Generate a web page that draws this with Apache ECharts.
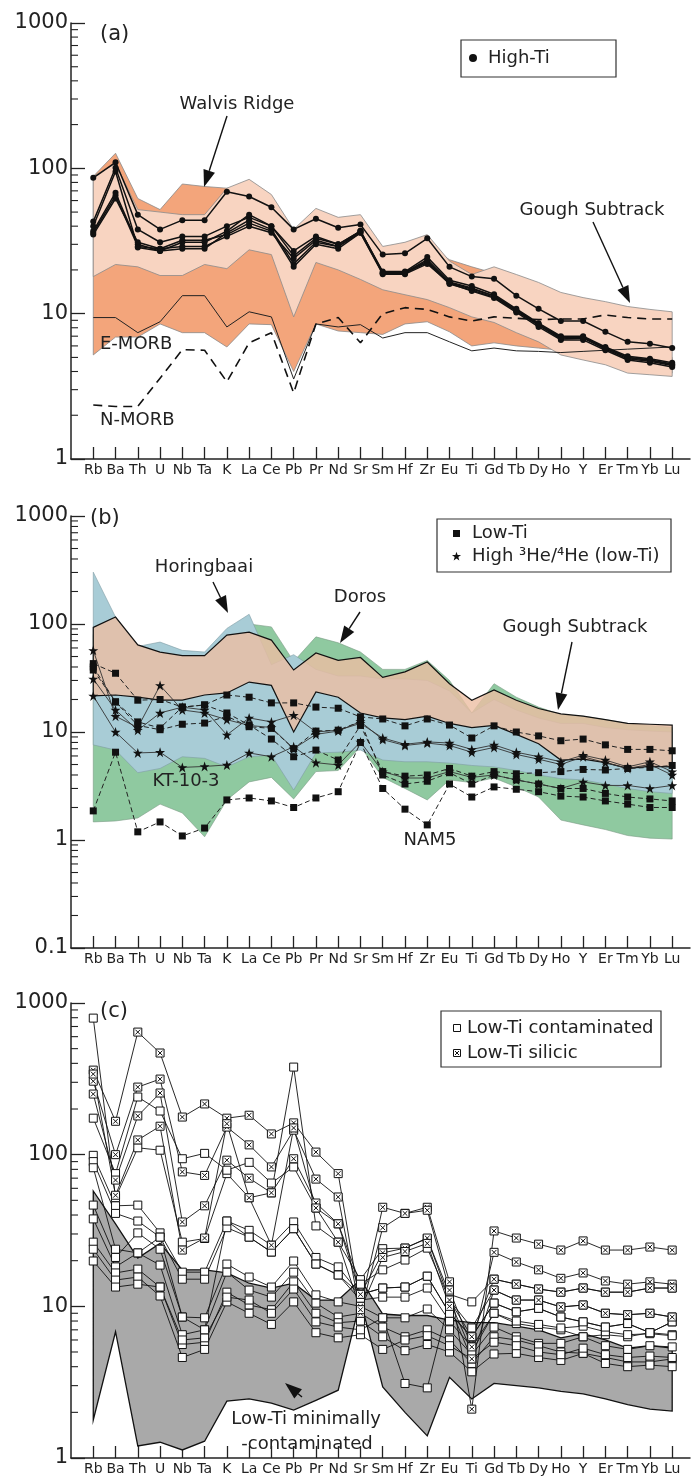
<!DOCTYPE html>
<html><head><meta charset="utf-8">
<script src="https://cdn.jsdelivr.net/npm/echarts@6/dist/echarts.min.js"></script>
<style>html,body{margin:0;padding:0;background:#fff}#c{width:692px;height:1477px}</style>
</head><body><div id="c"></div><script>
// Element order of the primitive-mantle-normalised spider diagram
const elements = ['Rb','Ba','Th','U','Nb','Ta','K','La','Ce','Pb','Pr','Nd','Sr','Sm','Hf','Zr','Eu','Ti','Gd','Tb','Dy','Ho','Y','Er','Tm','Yb','Lu'];
const tickIdx = elements.map((e, i) => i);

// ---------- (a) High-Ti ----------
const walvisUpper = [88,127,62,52,78,75,73,70,60,36,50,44,40,26,27,30,23.5,21,19,15,12,9,7,6,5.5,5.2,5];
const walvisLower = [5.2,6.9,6.9,8.5,7.4,7.4,5.9,8.5,8.4,4.0,8.5,7.6,7.4,7.2,8.5,8.8,7.5,6.0,6.3,6.0,5.8,5.6,5.2,4.8,4.2,4.0,3.9];
const goughAUpper = [88,108,52,50,48,48,73,84,66,38,53,46,48,29,31,35,23,18.6,21,18.6,16.4,14,12.9,12.1,11.2,10.7,10.3];
const goughALower = [18,21.8,21,18.3,18.3,21.8,20.4,27.5,25.5,9.5,22.5,20,17.2,14.6,13.5,12.5,11,9.5,8.7,7.4,6.4,5.2,4.8,4.45,3.9,3.8,3.7];
const eMorb = [9.4,9.4,7.4,8.8,13.3,13.3,8.1,10.3,9.5,3.55,8.5,8.1,8.4,6.8,7.4,7.4,6.4,5.55,5.8,5.55,5.5,5.4,5.5,5.6,5.7,5.8,5.9];
const nMorb = [2.35,2.3,2.3,3.6,5.65,5.6,3.4,6.3,7.4,2.85,8.5,9.4,6.3,10,11,10.7,9.5,8.9,9.5,9.3,9.1,9.2,9.2,9.8,9.4,9.2,9.2];
const highTi = [
  [86,110,48,38,44,44,69,64,54,38,45,39,41,25.5,26,33,21,18,17.4,13.3,10.8,8.9,8.9,7.5,6.4,6.2,5.8],
  [43,101,38,31,34,34,40,46,40,25,33,30,37,19.5,19.5,24.5,17,15.5,13.6,10.8,8.6,7,7,5.9,5.1,4.9,4.6],
  [37,68,30,27,28,28,36,44,38,22,31,29,37,19,19,23,16.3,14.8,13.3,10.6,8.5,6.9,6.9,5.8,5,4.8,4.5],
  [36,65,29,28,32,32,35,42,37,21,30,28,36,19,19,22.5,16,14.5,13,10.4,8.3,6.7,6.8,5.7,4.9,4.7,4.4],
  [35,62,31,28,29,29,34,40,36,24,32,29,36,18.7,18.7,22,16.2,14.3,12.8,10.2,8.1,6.6,6.6,5.6,4.8,4.6,4.3],
  [40,95,28.5,27,31,31,37,48,40,27,34,30,37,19.2,19.2,23.5,16.5,15,13.2,10.5,8.4,6.8,6.9,5.8,5,4.8,4.45]
];

// ---------- (b) Low-Ti ----------
const doros = {
  upper: [80,100,55,50,45,45,70,100,94,45,76,67,55,38,38,46,30,15,28,21,17,14.5,14,13,12,11.5,11],
  lower: [1.47,1.5,1.6,2.15,1.78,1.07,2.35,3.45,3.8,2.4,4.3,4.4,7.3,3.8,3.0,2.35,3.6,3.4,3.75,3.1,2.5,1.53,1.38,1.25,1.1,1.04,1.02]
};
const horingbaai = {
  upper: [302,116,62,68,57,55,91,123,42,52,38,33,33,31,31,30,24,15,20,16,13.5,12,12,11,10.5,10.2,10],
  lower: [7.6,6.8,4.2,4.6,5.9,5.7,4.75,5.9,6.1,2.9,6.4,6.5,6.8,5.5,5.3,5.3,5.15,4.9,4.75,4.4,4.0,3.7,3.6,3.3,3.0,2.8,2.7]
};
const goughB = {
  upper: [93,116,64,55,51,51,79,84,71,37.5,54,46,49,32,36,44.5,28,19.7,24.5,19.7,16.5,14.7,14,13,12,11.8,11.6],
  lower: [21.6,22,21,19.7,19.7,22,23,29,27,10,23.5,21,15,13.5,13,14,12,11,11.5,9.5,7.8,5.5,5.6,5.2,4.6,4.8,4.75]
};
const lowTi = [
  [43,35,19.7,20,17,17.8,22,21,18.6,18.6,17,16.6,13.8,13.2,11.4,13.2,11.6,8.8,11.4,10,9.2,8.3,8.6,7.6,6.9,6.9,6.7],
  [37.5,19,12.4,10.9,17,17.8,15,11.6,8.6,5.9,6.8,5.5,11.5,4.3,3.9,4.0,4.6,3.9,4.3,4.1,4.2,4.3,4.5,4.45,4.6,4.7,4.9],
  [40,19,11.5,10.5,11.8,12.1,14,11.2,10.8,7.0,10.2,10.4,12.5,4.0,3.3,3.5,4.2,3.3,4.0,3.6,3.3,3.0,3.0,2.7,2.5,2.4,2.3],
  [1.86,6.5,1.19,1.47,1.09,1.29,2.35,2.45,2.3,2.0,2.45,2.8,8.0,3.0,1.93,1.38,3.3,2.5,3.1,2.95,2.8,2.55,2.5,2.3,2.15,2.0,2.0]
];
const highHe = [
  [31,16,10.4,15,17,16,9.4,13.5,12.4,14.3,10,10.4,12,8.8,7.7,8.1,7.9,6.9,7.6,6.5,5.9,5.3,6.1,5.5,4.75,5.3,4.3],
  [21.6,10,6.4,6.5,4.7,4.8,4.95,6.4,5.9,7.3,5.2,4.95,8.1,4.3,3.75,3.75,4.3,3.8,4.0,3.6,3.3,3.0,3.45,3.2,3.2,3.0,3.2],
  [57,14,11,27,16,15,13,11.5,11,7.0,9.5,10.2,12.5,8.5,7.5,7.9,7.5,6.5,7.2,6.2,5.6,5.0,5.9,5.2,4.6,5.0,4.0]
];

// ---------- (c) Low-Ti contaminated / silicic ----------
const minContUpper = [57.6,35,20.8,26,17.4,17.4,16.6,14.2,13.2,14.2,11,11,15,8.9,8.7,8.7,8.1,7.8,7.8,7.4,7.0,6.2,6.6,6.0,5.3,5.5,5.3];
const minContLower = [1.78,6.8,1.2,1.27,1.13,1.29,2.37,2.45,2.3,2.07,2.4,2.8,11,2.94,2.0,1.4,3.4,2.45,3.1,3.0,2.9,2.75,2.65,2.45,2.25,2.1,2.04];
const silicic = [
  [361,166,643,468,177,216,174,182,137,162,104,75,10,45,41,45,14.5,2.1,31.4,28.2,25.7,23.5,27,23.5,23.5,24.6,23.5],
  [305,100,279,315,77,73,152,116,83,145,69,52.6,9,33,41,43,12.8,5.4,22.7,19.6,17.4,15.3,16.6,14.7,14,14.5,14],
  [251,68,180,255,36,46,92,70,56,94,48,35,12,22.5,24.2,28.2,11,6.3,15.1,14,13,12.4,13.2,12.4,12.4,13.2,13.2],
  [340,54,125,154,23.5,28.2,160,52,25.3,150,44.5,26.5,9.5,21,23,26,10,4.5,12.8,11,11,9.9,10.2,9,8.8,9,8.5]
];
const contaminated = [
  [795,52,111,107,26.5,28,75,52,56,378,33.9,26.5,15,24,24.2,28,12,10.7,15.1,14,13,12.4,13.2,12.4,12.4,13.2,13.2],
  [174,75,240,194,94,102,79,89,65,83,44.5,35,14,17.4,20.2,24.2,11,7.2,12.8,11,11,9.9,10.2,9,8.8,9,8.5],
  [99,46,46.5,30.5,16.8,16.8,36.5,31.7,25.3,36,21,18.2,12,13.2,13.4,15.8,9,6.3,10.5,9.2,9.7,8.5,7.9,7.3,7.7,6.7,7.9],
  [90,41,36.5,28.6,15.1,15.1,33,28.6,22.8,32.5,19,16.1,11,11.5,11.5,13.2,8,5.4,9.0,7.7,7.3,7.0,6.3,6.5,6.3,6.7,6.5],
  [46.5,21,30.5,23.8,8.5,8.4,19,15.6,13.4,19.9,11.9,10.7,10,8.4,8.4,9.6,7,4.8,7.3,6.3,5.7,5.7,6.3,5.5,5.2,5.5,5.4],
  [37.7,18.2,22.5,18.7,6.5,7.0,16.8,12.8,11.5,16.8,10.5,8.5,9,7.3,6.3,7.0,6,4.2,6.3,6.0,5.5,5.0,4.9,4.6,4.3,4.3,4.5],
  [26.5,16.6,17.6,13.4,5.6,5.8,12.4,10.2,9.5,14.5,9,7.8,8,6.3,5.1,5.6,5,3.7,4.85,4.9,4.6,4.4,4.9,4.2,4.0,4.1,4.0],
  [23.8,14.9,15.6,11.7,4.6,5.2,10.7,9.0,7.6,10.7,6.7,6.2,6.5,5.2,6.0,6.4,5.5,4.5,5.8,5.5,5.0,4.8,5.3,4.8,4.6,4.7,4.6],
  [19.9,13.4,14,13.4,6.0,6.2,11.5,11,9.0,13,7.9,7.3,7,8.4,3.1,2.9,11,5.0,9.0,8.0,7.6,7.2,7.4,6.8,6.5,6.6,6.4],
  [82,23.8,22.5,28.6,8.5,7.0,36.5,28.6,22.8,32.5,19,16.1,12,13.2,13.4,15.8,9,6.3,10.5,9.2,9.7,8.5,7.9,7.3,7.7,6.7,7.9]
];

// ---------- layout ----------
const FONT = 'DejaVu Sans';
const grids = [
  {left: 71, top: 23, width: 619, height: 436},
  {left: 71, top: 516, width: 619, height: 432},
  {left: 71, top: 1003, width: 619, height: 455}
];
const yRanges = [[1, 1000], [0.1, 1000], [1, 1000]];

function xAxisFor(g) {
  return {
    type: 'value', gridIndex: g, min: -1, max: 26.8,
    axisLine: {show: true, onZero: false, lineStyle: {color: '#222', width: 1.5}},
    axisTick: {show: true, inside: true, length: 12, customValues: tickIdx, lineStyle: {color: '#222', width: 1.3}},
    axisLabel: {customValues: tickIdx, formatter: v => elements[v] || '', fontFamily: FONT, fontSize: 14, color: '#222', margin: 4, hideOverlap: false},
    splitLine: {show: false}
  };
}
function yAxisFor(g) {
  return {
    type: 'log', logBase: 10, gridIndex: g, min: yRanges[g][0], max: yRanges[g][1],
    axisLine: {show: true, onZero: false, lineStyle: {color: '#222', width: 1.5}},
    axisTick: {show: true, inside: true, length: 14, lineStyle: {color: '#222', width: 1.3}},
    axisLabel: {fontFamily: FONT, fontSize: 21, color: '#222', margin: 3, formatter: v => String(+(+v).toPrecision(3))},
    splitLine: {show: false}
  };
}

// minor ticks on the log axes (2..9 within each decade)
function minorTicks(g) {
  const vals = [];
  const [lo, hi] = yRanges[g];
  for (let d = lo; d < hi * 0.99; d *= 10) for (let k = 2; k <= 9; k++) vals.push(+(d * k).toPrecision(3));
  return {
    type: 'custom', xAxisIndex: g, yAxisIndex: g, silent: true, z: 5, data: [[0, 10]],
    renderItem: (p, api) => ({
      type: 'group',
      children: vals.map(v => {
        const c = api.coord([-1, v]);
        return {type: 'line', shape: {x1: c[0], y1: c[1], x2: c[0] + 7, y2: c[1]}, style: {stroke: '#222', lineWidth: 1.1}};
      })
    })
  };
}

// filled envelope between an upper and a lower profile
function field(g, upper, lower, fill, stroke, lw, z) {
  return {
    type: 'custom', xAxisIndex: g, yAxisIndex: g, silent: true, z: z || 1, data: [[0, 10]],
    renderItem: (p, api) => {
      const pts = [];
      upper.forEach((v, i) => pts.push(api.coord([i, v])));
      for (let i = lower.length - 1; i >= 0; i--) pts.push(api.coord([i, lower[i]]));
      return {type: 'polygon', shape: {points: pts}, style: {fill: fill, stroke: stroke || null, lineWidth: lw || 0}};
    }
  };
}

function profile(g, name, vals, o) {
  return Object.assign({
    name: name, type: 'line', xAxisIndex: g, yAxisIndex: g, z: 3,
    data: vals.map((v, i) => [i, v]),
    symbol: 'none', lineStyle: {color: '#111', width: 1}, itemStyle: {color: '#111'}
  }, o);
}

const STAR = 'path://M50,0L61.8,35.3L99,35.3L68.9,57.3L80.3,92.7L50,70.9L19.7,92.7L31.1,57.3L1,35.3L38.2,35.3Z';
const XSQ = 'path://M0,0L10,0L10,10L0,10Z M2,2L8,8 M8,2L2,8';

const series = [];
// panel (a)
series.push(field(0, walvisUpper, walvisLower, '#F3A57B', '#8a8a8a', 0.8, 1));
series.push(field(0, goughAUpper, goughALower, '#F8D4C1', '#8a8a8a', 0.8, 1));
series.push(profile(0, 'E-MORB', eMorb, {z: 2, lineStyle: {color: '#222', width: 1}}));
series.push(profile(0, 'N-MORB', nMorb, {z: 2, lineStyle: {color: '#111', width: 1.6, type: [9, 6]}}));
highTi.forEach(v => series.push(profile(0, 'High-Ti', v, {symbol: 'circle', symbolSize: 6, lineStyle: {color: '#111', width: 1.5}})));
series.push(minorTicks(0));
// panel (b): Doros and Horingbaai opaque, Gough Subtrack translucent on top
series.push(field(1, doros.upper, doros.lower, '#8FC9A0', '#7a9a85', 0.6, 1));
series.push(field(1, horingbaai.upper, horingbaai.lower, '#A8CCD6', '#7f9ca4', 0.6, 1));
series.push(field(1, goughB.upper, goughB.lower, 'rgba(236,190,163,0.8)', '#111', 1.2, 1));
lowTi.forEach(v => series.push(profile(1, 'Low-Ti', v, {symbol: 'rect', symbolSize: 7, lineStyle: {color: '#222', width: 1, type: [5, 3]}})));
highHe.forEach(v => series.push(profile(1, 'High 3He/4He (low-Ti)', v, {symbol: STAR, symbolSize: 10, lineStyle: {color: '#333', width: 0.9}})));
series.push(minorTicks(1));
// panel (c)
series.push(field(2, minContUpper, minContLower, '#A9A9A9', '#111', 1.3, 1));
contaminated.forEach(v => series.push(profile(2, 'Low-Ti contaminated', v, {symbol: 'rect', symbolSize: 8, lineStyle: {color: '#111', width: 0.9}, itemStyle: {color: '#fff', borderColor: '#111', borderWidth: 1}})));
silicic.forEach(v => series.push(profile(2, 'Low-Ti silicic', v, {symbol: XSQ, symbolSize: 8, lineStyle: {color: '#111', width: 0.9}, itemStyle: {color: '#fff', borderColor: '#111', borderWidth: 1}})));
series.push(minorTicks(2));

// ---------- annotations ----------
const NOTE = '18px "DejaVu Sans"';
function txt(x, y, s, st) {
  return {type: 'text', x: x, y: y, z: 50, style: Object.assign({text: s, font: NOTE, fill: '#222', align: 'center', verticalAlign: 'middle'}, st || {})};
}
function arrow(x1, y1, x2, y2) {
  const a = Math.atan2(y2 - y1, x2 - x1), L = 17, W = 6;
  const bx = x2 - L * Math.cos(a), by = y2 - L * Math.sin(a);
  return [
    {type: 'line', z: 50, shape: {x1: x1, y1: y1, x2: bx, y2: by}, style: {stroke: '#111', lineWidth: 1.4}},
    {type: 'polygon', z: 50, shape: {points: [[x2, y2], [bx + W * Math.sin(a), by - W * Math.cos(a)], [bx - W * Math.sin(a), by + W * Math.cos(a)]]}, style: {fill: '#111'}}
  ];
}
function starPts(cx, cy, R) {
  const pts = [];
  for (let k = 0; k < 10; k++) {
    const r = k % 2 ? R * 0.4 : R, a = -Math.PI / 2 + k * Math.PI / 5;
    pts.push([cx + r * Math.cos(a), cy + r * Math.sin(a)]);
  }
  return pts;
}
const big = '21px "DejaVu Sans"';
const graphics = [
  // (a)
  txt(100, 35, '(a)', {font: big, align: 'left'}),
  {type: 'rect', z: 50, shape: {x: 461, y: 40, width: 155, height: 37}, style: {fill: '#fff', stroke: '#333', lineWidth: 1.2}},
  {type: 'circle', z: 51, shape: {cx: 473, cy: 58, r: 4}, style: {fill: '#111'}},
  txt(488, 58, 'High-Ti', {align: 'left'}),
  txt(237, 104, 'Walvis Ridge'), ...arrow(227, 116, 204, 187),
  txt(592, 210, 'Gough Subtrack'), ...arrow(593, 222, 630, 303),
  txt(100, 344, 'E-MORB', {align: 'left'}),
  txt(100, 420, 'N-MORB', {align: 'left'}),
  // (b)
  txt(90, 519, '(b)', {font: big, align: 'left'}),
  {type: 'rect', z: 50, shape: {x: 437, y: 519, width: 234, height: 53}, style: {fill: '#fff', stroke: '#333', lineWidth: 1.2}},
  {type: 'rect', z: 51, shape: {x: 453, y: 530, width: 7, height: 7}, style: {fill: '#111'}},
  txt(472, 533, 'Low-Ti', {align: 'left'}),
  {type: 'polygon', z: 51, shape: {points: starPts(456.5, 556.5, 4.8)}, style: {fill: '#111'}},
  txt(472, 556, 'High \u00B3He/\u2074He (low-Ti)', {align: 'left'}),
  txt(204, 567, 'Horingbaai'), ...arrow(213, 582, 228, 613),
  txt(360, 597, 'Doros'), ...arrow(360, 612, 340, 643),
  txt(575, 627, 'Gough Subtrack'), ...arrow(572, 642, 558, 710),
  txt(186, 781, 'KT-10-3'),
  txt(430, 840, 'NAM5'),
  // (c)
  txt(100, 1012, '(c)', {font: big, align: 'left'}),
  {type: 'rect', z: 50, shape: {x: 441, y: 1011, width: 220, height: 56}, style: {fill: '#fff', stroke: '#333', lineWidth: 1.2}},
  {type: 'rect', z: 51, shape: {x: 453.5, y: 1024.5, width: 7, height: 7}, style: {fill: '#fff', stroke: '#111', lineWidth: 1}},
  txt(467, 1028, 'Low-Ti contaminated', {align: 'left'}),
  {type: 'rect', z: 51, shape: {x: 453.5, y: 1049.5, width: 7, height: 7}, style: {fill: '#fff', stroke: '#111', lineWidth: 1}},
  {type: 'line', z: 52, shape: {x1: 455, y1: 1051, x2: 459, y2: 1055}, style: {stroke: '#111', lineWidth: 1}},
  {type: 'line', z: 52, shape: {x1: 459, y1: 1051, x2: 455, y2: 1055}, style: {stroke: '#111', lineWidth: 1}},
  txt(467, 1053, 'Low-Ti silicic', {align: 'left'}),
  txt(306, 1419, 'Low-Ti minimally'),
  txt(307, 1444, '-contaminated'),
  ...arrow(302, 1397, 285, 1383)
];

const chart = echarts.init(document.getElementById('c'), null, {renderer: 'canvas'});
chart.setOption({
  animation: false,
  backgroundColor: '#fff',
  grid: grids,
  xAxis: [0, 1, 2].map(xAxisFor),
  yAxis: [0, 1, 2].map(yAxisFor),
  series: series,
  graphic: graphics
});
</script></body></html>
